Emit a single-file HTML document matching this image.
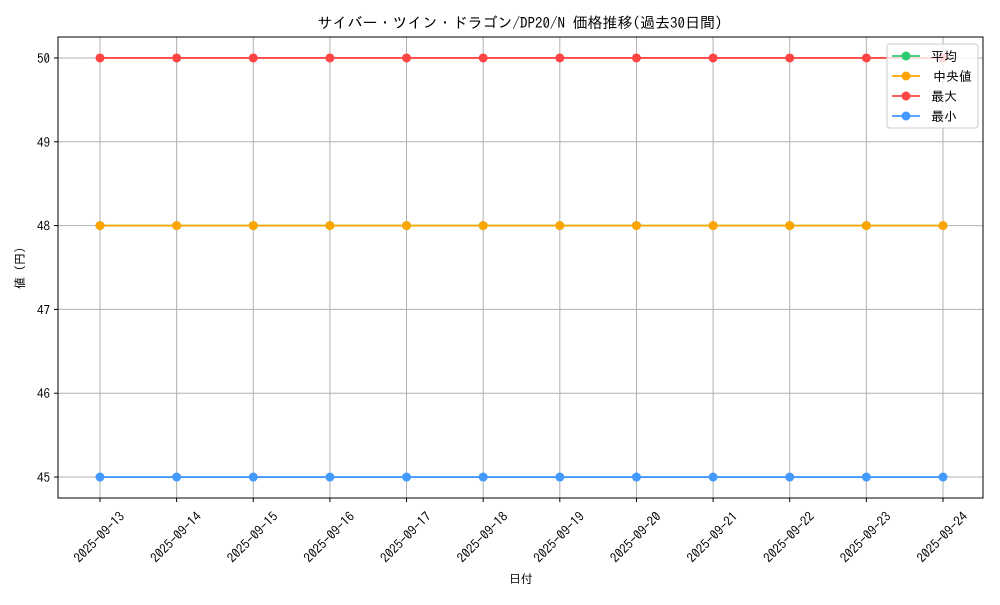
<!DOCTYPE html>
<html><head><meta charset="utf-8"><style>
body{margin:0;background:#fff;}
svg{font-family:"IPAGothic","Liberation Sans","Noto Sans CJK JP",sans-serif;}
</style></head><body>
<svg id="chart" width="1000" height="600" xmlns="http://www.w3.org/2000/svg">
<rect width="1000" height="600" fill="#fff"/>
<text x="520" y="28" text-anchor="middle" font-size="15">サイバー・ツイン・ドラゴン/DP20/N 価格推移(過去30日間)</text>
<text x="521" y="583" text-anchor="middle" font-size="12">日付</text>
<text transform="translate(24,268) rotate(-90)" text-anchor="middle" font-size="12">値 (円)</text>
<g id="grid"></g><g id="series"></g><g id="axes"></g>
</svg>
<script>
const dates=["2025-09-13","2025-09-14","2025-09-15","2025-09-16","2025-09-17","2025-09-18","2025-09-19","2025-09-20","2025-09-21","2025-09-22","2025-09-23","2025-09-24"];
const avgVals=[48,48,48,48,48,48,48,48,48,48,48,48];
const medVals=[48,48,48,48,48,48,48,48,48,48,48,48];
const maxVals=[50,50,50,50,50,50,50,50,50,50,50,50];
const minVals=[45,45,45,45,45,45,45,45,45,45,45,45];
const yTicks=[45,46,47,48,49,50];
const seriesNames=["平均","中央値","最大","最小"];
const NS="http://www.w3.org/2000/svg";
const L=58,R=983,T=37,B=498,yMin=44.75,yMax=50.25;
const xs=i=>100+i*(943-100)/(dates.length-1);
const ys=v=>B-(v-yMin)/(yMax-yMin)*(B-T);
function mk(tag,attrs,parent){const e=document.createElementNS(NS,tag);for(const k in attrs)e.setAttribute(k,attrs[k]);parent.appendChild(e);return e;}
const grid=document.getElementById('grid'),axes=document.getElementById('axes'),ser=document.getElementById('series');
dates.forEach((d,i)=>{
 const g=mk('line',{x1:xs(i),x2:xs(i),y1:T,y2:B,stroke:'#b0b0b0','stroke-width':1},grid);
 
 
 const t=mk('line',{x1:xs(i),x2:xs(i),y1:B,y2:B+4,stroke:'#000'},axes);
 
 
 const lb=mk('text',{transform:`translate(${xs(i)},${B+40}) rotate(-45)`,'text-anchor':'middle','dominant-baseline':'middle','font-size':13},axes);
 lb.textContent=d;
 
 
});
yTicks.forEach(v=>{
 const g=mk('line',{x1:L,x2:R,y1:ys(v),y2:ys(v),stroke:'#b0b0b0','stroke-width':1},grid);
 
 
 const t=mk('line',{x1:L-4,x2:L,y1:ys(v),y2:ys(v),stroke:'#000'},axes);
 
 
 const lb=mk('text',{x:L-8,y:ys(v)+5,'text-anchor':'end','font-size':13},axes);
 lb.textContent=v;
 
 
});
const fr=mk('rect',{x:L,y:T,width:R-L,height:B-T,fill:'none',stroke:'#000','stroke-width':1},axes);


const all=[[avgVals,'#2ecc71','series-average'],[medVals,'#ffa500','series-median'],[maxVals,'#ff4444','series-max'],[minVals,'#4499ff','series-min']];
all.forEach(([vals,c,n])=>{
 const g=mk('g',{},ser);
 
 
 mk('polyline',{points:vals.map((v,i)=>xs(i)+','+ys(v)).join(' '),fill:'none',stroke:c,'stroke-width':1.8},g);
 vals.forEach((v,i)=>{const p=mk('circle',{cx:xs(i),cy:ys(v),r:4.5,fill:c},g);
  
  });
});
const lg=mk('g',{},axes);


mk('rect',{x:887,y:44,width:91,height:84,rx:3,fill:'#fff','fill-opacity':0.8,stroke:'#ccc'},lg);
all.forEach(([v,c,n],i)=>{
 const y=56+i*20;
 const e=mk('g',{},lg);
 
 
 mk('line',{x1:892,x2:920,y1:y,y2:y,stroke:c,'stroke-width':1.8},e);
 mk('circle',{cx:906,cy:y,r:4.5,fill:c},e);
 const t=mk('text',{x:i==1?933:931,y:y+5,'font-size':13},e);
 t.textContent=seriesNames[i];
});
</script>
</body></html>
